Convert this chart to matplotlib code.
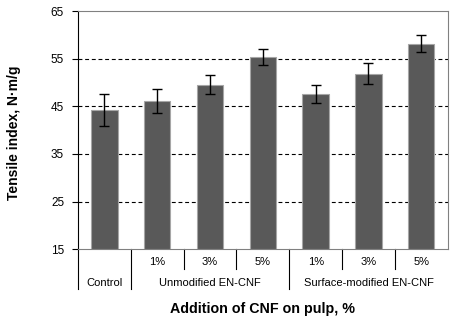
import matplotlib
matplotlib.use("Agg")
import matplotlib.pyplot as plt
import matplotlib.transforms as mtransforms
import numpy as np

# Data
tick_labels = ["", "1%", "3%", "5%", "1%", "3%", "5%"]
group_labels = ["Control", "Unmodified EN-CNF", "Surface-modified EN-CNF"]
group_centers = [0, 2, 5]
tensile = [44.2, 46.1, 49.5, 55.3, 47.6, 51.8, 58.1]
errors = [3.4, 2.5, 2.0, 1.7, 1.9, 2.2, 1.8]

plt.rcParams['font.family'] = ['Liberation Sans', 'DejaVu Sans']

fig = plt.figure(figsize=(4.51, 3.24), dpi=100)
ax = fig.add_axes([78 / 451, 1 - 249.3 / 324, 369.7 / 451, 238.3 / 324])

x = np.arange(len(tensile))
ax.bar(x, np.array(tensile) - 15, bottom=15, width=0.5, color='#595959',
       edgecolor='#a6a6a6', linewidth=0.8, zorder=3)
ax.errorbar(x, tensile, yerr=errors, fmt='none', ecolor='black',
            elinewidth=1.0, capsize=3.5, capthick=1.0, zorder=4)

ax.set_xlim(-0.5, 6.5)
ax.set_ylim(15, 65)
ax.set_yticks(np.arange(15, 66, 10))
for v in [25, 35, 45, 55]:
    ax.axhline(v, color='black', linestyle=(0, (3.5, 2.5)), linewidth=0.8, zorder=1)

ax.spines['left'].set_color('black')
for s in ['top', 'right', 'bottom']:
    ax.spines[s].set_color('#808080')
ax.tick_params(axis='y', length=4, width=0.8, pad=6, labelsize=8.5, colors='black')
ax.set_xticks([])

# Category axis below the plot
trans = mtransforms.blended_transform_factory(ax.transData, ax.transAxes)
long_seps = [-0.5, 0.5, 3.5]
short_seps = [1.5, 2.5, 4.5, 5.5]
for s in long_seps:
    ax.plot([s, s], [0, -40 / 238.3], transform=trans, color='black',
            linewidth=0.8, clip_on=False)
for s in short_seps:
    ax.plot([s, s], [0, -20 / 238.3], transform=trans, color='black',
            linewidth=0.8, clip_on=False)
for i, lab in enumerate(tick_labels):
    ax.text(i, -12.5 / 238.3, lab, transform=trans, ha='center', va='center',
            fontsize=8)
for c, lab in zip(group_centers, group_labels):
    ax.text(c, -33.5 / 238.3, lab, transform=trans, ha='center', va='center',
            fontsize=8)

fig.text(263 / 451, 1 - 309 / 324, "Addition of CNF on pulp, %", ha='center',
         va='center', fontsize=10.3, fontweight='bold')
fig.text(14 / 451, 1 - 132.5 / 324, "Tensile index, N\u00b7m/g", ha='center',
         va='center', rotation=90, fontsize=10, fontweight='bold')

fig.savefig("out.png", dpi=100)
